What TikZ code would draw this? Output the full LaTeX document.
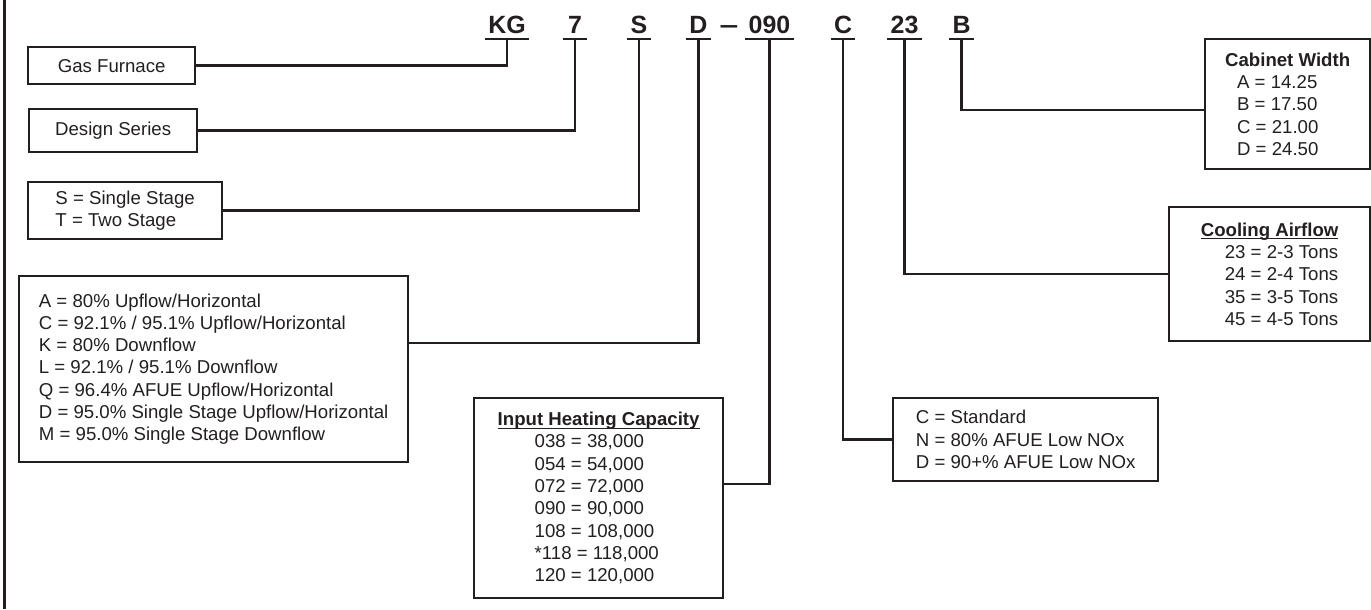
\documentclass[tikz,border=0pt]{standalone}
\usepackage{fontspec}
\usepackage{amsmath}
\setmainfont{Liberation Sans}
\definecolor{ink}{HTML}{231F20}

\begin{document}
\begin{tikzpicture}[ink,
		code/.style={font=\bfseries\fontsize{14.2pt}{17pt}\selectfont, inner xsep=0.06cm, inner ysep=0.1cm, minimum width=0.48cm, anchor=south},
		keybox/.style={draw, line width=1.3pt, anchor=north west, align=left, inner sep=0pt, font=\fontsize{10.6pt}{12.7pt}\selectfont},
		lead/.style={line width=1.3pt},
		bar/.style={line width=1.5pt}]
	
		\useasboundingbox (0,0) rectangle (27.42,12.18);
		\draw[line width=1.7pt] (0.09,0) -- (0.09,12.18);
	
		% model number
		\node[code] (kg) at (10.14,11.40) {KG};
		\node[code] (ser) at (11.50,11.40) {7};
		\node[code] (stg) at (12.78,11.40) {S};
		\node[code] (typ) at (13.97,11.40) {D};
		\node[code, anchor=base, minimum width=0pt] (dash) at (14.58,11.50) {\scalebox{1.35}[1]{\textendash}};
		\node[code] (cap) at (15.39,11.40) {090};
		\node[code] (nox) at (16.86,11.40) {C};
		\node[code] (air) at (18.09,11.40) {23};
		\node[code] (wid) at (19.23,11.40) {B};
		
		\draw[bar] (kg.south west) -- (kg.south east);
		\draw[bar] (ser.south west) -- (ser.south east);
		\draw[bar] (stg.south west) -- (stg.south east);
		\draw[bar] (typ.south west) -- (typ.south east);
		\draw[bar] (cap.south west) -- (cap.south east);
		\draw[bar] (nox.south west) -- (nox.south east);
		\draw[bar] (air.south west) -- (air.south east);
		\draw[bar] (wid.south west) -- (wid.south east);
		
		
		% left side
		\node[keybox, minimum width=3.34cm, minimum height=0.74cm] (gasbox) at (0.54,11.26) {Gas Furnace};
		
		\node[keybox, minimum width=3.36cm, minimum height=0.86cm] (serbox) at (0.56,10.02) {Design Series};
		
		\node[keybox, minimum width=3.88cm, minimum height=1.14cm] (stgbox) at (0.54,8.56) {S = Single Stage\\T = Two Stage};
		
		\node[keybox, minimum width=7.78cm, minimum height=3.72cm] (typbox) at (0.36,6.68) {A = 80\% Upflow/Horizontal\\C = 92.1\% / 95.1\% Upflow/Horizontal\\K = 80\% Downflow\\L = 92.1\% / 95.1\% Downflow\\Q = 96.4\% AFUE Upflow/Horizontal\\D = 95.0\% Single Stage Upflow/Horizontal\\M = 95.0\% Single Stage Downflow};
		
		\node[keybox, minimum width=4.98cm, minimum height=4.0cm] (capbox) at (9.46,4.24) {\underline{\smash[b]{\textbf{Input Heating Capacity}}}\\\hspace*{0.74cm}038 = 38,000\\\hspace*{0.74cm}054 = 54,000\\\hspace*{0.74cm}072 = 72,000\\\hspace*{0.74cm}090 = 90,000\\\hspace*{0.74cm}108 = 108,000\\\hspace*{0.74cm}*118 = 118,000\\\hspace*{0.74cm}120 = 120,000};
		
		
		% right side
		\node[keybox, minimum width=5.3cm, minimum height=1.66cm] (noxbox) at (17.84,4.24) {C = Standard\\N = 80\% AFUE Low NOx\\D = 90+\% AFUE Low NOx};
		
		\node[keybox, minimum width=4.02cm, minimum height=2.68cm] (airbox) at (23.36,8.06) {\underline{\smash[b]{\textbf{Cooling Airflow}}}\\\hspace*{0.48cm}23 = 2-3 Tons\\\hspace*{0.48cm}24 = 2-4 Tons\\\hspace*{0.48cm}35 = 3-5 Tons\\\hspace*{0.48cm}45 = 4-5 Tons};
		
		\node[keybox, minimum width=3.3cm, minimum height=2.6cm] (widbox) at (24.08,11.42) {\textbf{Cabinet Width}\\\hspace*{0.24cm}A = 14.25\\\hspace*{0.24cm}B = 17.50\\\hspace*{0.24cm}C = 21.00\\\hspace*{0.24cm}D = 24.50};
		
		
		% leaders
		\draw[lead] (kg.south) |- (gasbox.east);
		\draw[lead] (ser.south) |- (serbox.east);
		\draw[lead] (stg.south) |- (stgbox.east);
		\draw[lead] (typ.south) |- ([yshift=0.52cm]typbox.east);
		\draw[lead] (cap.south) |- ([yshift=0.28cm]capbox.east);
		\draw[lead] (nox.south) |- (noxbox.west);
		\draw[lead] (air.south) |- (airbox.west);
		\draw[lead] (wid.south) |- ([yshift=-0.12cm]widbox.west);
	
	\end{tikzpicture}
\end{document}
